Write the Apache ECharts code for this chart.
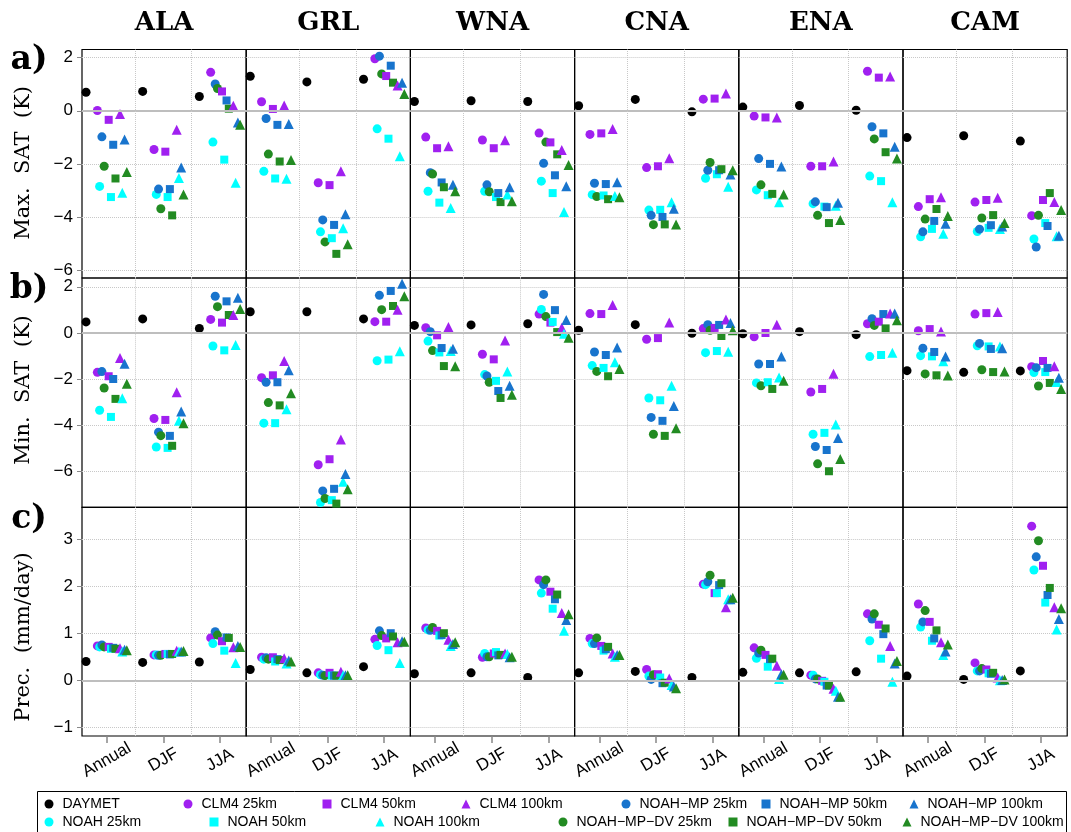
<!DOCTYPE html>
<html>
<head>
<meta charset="utf-8">
<script src="https://cdn.jsdelivr.net/npm/echarts@6/dist/echarts.min.js"></script>
<style>
html, body { margin: 0; padding: 0; background: #fff; }
#chart { width: 1071px; height: 832px; }
</style>
</head>
<body>
<div id="chart"></div>
<script>
// regions (columns), seasons (x categories)
const regions = ['ALA', 'GRL', 'WNA', 'CNA', 'ENA', 'CAM'];
const seasons = ['Annual', 'DJF', 'JJA'];

// row order in every data table below, values are [Annual, DJF, JJA]
const seriesNames = [
  'DAYMET',
  'CLM4 25km', 'CLM4 50km', 'CLM4 100km',
  'NOAH\u2212MP 25km', 'NOAH\u2212MP 50km', 'NOAH\u2212MP 100km',
  'NOAH 25km', 'NOAH 50km', 'NOAH 100km',
  'NOAH\u2212MP\u2212DV 25km', 'NOAH\u2212MP\u2212DV 50km', 'NOAH\u2212MP\u2212DV 100km'
];

// a) Max. SAT (K)
const maxALA = [[0.70,0.73,0.54],[0.01,-1.46,1.45],[-0.34,-1.54,0.73],[-0.12,-0.71,0.19],[-0.98,-2.95,1.01],[-1.28,-2.95,0.39],[-1.08,-2.14,-0.44],[-2.85,-3.15,-1.18],[-3.25,-3.25,-1.84],[-3.09,-2.53,-2.71],[-2.09,-3.69,0.84],[-2.55,-3.94,0.08],[-2.31,-3.15,-0.53]];
const maxGRL = [[1.30,1.09,1.19],[0.34,-2.71,1.96],[0.07,-2.80,1.31],[0.20,-2.28,0.95],[-0.29,-4.11,2.06],[-0.53,-4.30,1.70],[-0.50,-3.90,1.06],[-2.28,-4.56,-0.68],[-2.55,-4.80,-1.05],[-2.56,-4.43,-1.71],[-1.63,-4.94,1.39],[-1.91,-5.39,1.06],[-1.85,-5.03,0.63]];
const maxWNA = [[0.35,0.38,0.35],[-0.99,-1.10,-0.84],[-1.41,-1.41,-1.19],[-1.34,-1.11,-1.48],[-2.33,-2.79,-1.98],[-2.70,-3.10,-2.43],[-2.79,-2.88,-2.84],[-3.03,-3.03,-2.65],[-3.46,-3.25,-3.10],[-3.66,-3.15,-3.81],[-2.38,-3.05,-1.18],[-2.88,-3.44,-1.64],[-3.03,-3.41,-2.04]];
const maxCNA = [[0.19,0.43,-0.04],[-0.89,-2.14,0.44],[-0.85,-2.09,0.46],[-0.69,-1.79,0.65],[-2.73,-3.94,-2.24],[-2.76,-4.00,-2.24],[-2.69,-3.69,-2.40],[-3.16,-3.74,-2.54],[-3.19,-3.73,-2.39],[-3.21,-3.45,-2.86],[-3.23,-4.29,-1.95],[-3.33,-4.28,-2.20],[-3.26,-4.28,-2.24]];
const maxENA = [[0.14,0.20,0.02],[-0.20,-2.09,1.49],[-0.25,-2.09,1.25],[-0.25,-1.91,1.29],[-1.80,-3.43,-0.60],[-2.00,-3.63,-0.85],[-2.10,-3.46,-1.35],[-2.98,-3.50,-2.46],[-3.18,-3.61,-2.65],[-3.45,-3.58,-3.45],[-2.79,-3.94,-1.06],[-3.13,-4.23,-1.56],[-3.15,-4.11,-1.80]];
const maxCAM = [[-1.01,-0.94,-1.14],[-3.61,-3.44,-3.95],[-3.33,-3.36,-3.36],[-3.26,-3.28,-3.44],[-4.56,-4.46,-5.13],[-4.15,-4.31,-4.34],[-4.26,-4.36,-4.71],[-4.75,-4.55,-4.83],[-4.45,-4.41,-4.23],[-4.63,-4.45,-4.73],[-4.08,-4.04,-3.94],[-3.70,-3.93,-3.10],[-3.96,-4.23,-3.74]];

// b) Min. SAT (K)
const minALA = [[0.48,0.61,0.20],[-1.70,-3.70,0.59],[-1.87,-3.76,0.45],[-1.08,-2.56,0.78],[-1.67,-4.29,1.59],[-1.99,-4.45,1.37],[-1.33,-3.40,1.53],[-3.34,-4.93,-0.56],[-3.63,-4.97,-0.75],[-2.82,-3.80,-0.52],[-2.38,-4.44,1.14],[-2.85,-4.88,0.78],[-2.20,-3.90,1.04]];
const minGRL = [[0.92,0.92,0.61],[-1.93,-5.70,0.49],[-1.83,-5.46,0.49],[-1.21,-4.61,1.01],[-2.13,-6.83,1.63],[-2.13,-6.74,1.82],[-1.61,-6.10,2.13],[-3.90,-7.33,-1.20],[-3.90,-7.23,-1.15],[-3.30,-6.44,-0.79],[-3.01,-7.16,1.01],[-3.13,-7.38,1.17],[-2.61,-6.76,1.59]];
const minWNA = [[0.33,0.35,0.40],[0.23,-0.92,0.82],[-0.10,-1.14,0.45],[0.26,-0.32,0.23],[0.06,-1.86,1.67],[-0.65,-2.51,0.99],[-0.68,-2.28,0.56],[-0.35,-1.80,1.02],[-0.84,-2.07,0.48],[-0.78,-1.67,-0.03],[-0.76,-2.13,0.71],[-1.43,-2.81,0.04],[-1.44,-2.67,-0.20]];
const minCNA = [[0.12,0.36,-0.01],[0.84,-0.27,0.19],[0.82,-0.22,0.22],[1.21,0.45,0.58],[-0.82,-3.65,0.36],[-0.95,-3.80,0.35],[-0.63,-3.16,0.43],[-1.41,-2.81,-0.85],[-1.51,-2.91,-0.78],[-1.27,-2.28,-0.81],[-1.66,-4.38,0.12],[-1.87,-4.45,-0.13],[-1.56,-4.12,0.12]];
const minENA = [[-0.03,0.06,-0.07],[-0.16,-2.55,0.40],[0.00,-2.42,0.49],[0.36,-1.76,0.84],[-1.34,-4.91,0.62],[-1.34,-5.06,0.82],[-1.02,-4.54,0.84],[-2.16,-4.38,-1.02],[-2.13,-4.32,-0.95],[-1.92,-3.96,-0.85],[-2.28,-5.66,0.33],[-2.42,-5.98,0.20],[-2.07,-5.45,0.55]];
const minCAM = [[-1.63,-1.70,-1.64],[0.10,0.82,-1.46],[0.17,0.86,-1.21],[0.07,0.91,-1.44],[-0.66,-0.45,-1.50],[-0.82,-0.69,-1.51],[-1.02,-0.66,-1.93],[-0.98,-0.55,-1.71],[-1.01,-0.58,-1.69],[-1.22,-0.58,-2.12],[-1.77,-1.59,-2.29],[-1.83,-1.69,-2.16],[-1.84,-1.66,-2.42]];

// c) Prec. (mm/day)
const precALA = [[0.40,0.38,0.39],[0.73,0.54,0.90],[0.71,0.56,0.83],[0.68,0.63,0.70],[0.75,0.53,1.03],[0.69,0.55,0.91],[0.65,0.61,0.73],[0.71,0.54,0.78],[0.67,0.56,0.63],[0.61,0.61,0.37],[0.71,0.53,0.96],[0.67,0.56,0.90],[0.64,0.62,0.71]];
const precGRL = [[0.23,0.16,0.29],[0.49,0.16,0.87],[0.49,0.16,0.89],[0.47,0.18,0.81],[0.48,0.11,1.05],[0.45,0.10,1.00],[0.42,0.11,0.83],[0.45,0.12,0.74],[0.40,0.10,0.64],[0.36,0.11,0.37],[0.45,0.10,0.95],[0.43,0.10,0.93],[0.40,0.11,0.82]];
const precWNA = [[0.14,0.16,0.06],[1.11,0.49,2.13],[1.05,0.57,1.88],[0.86,0.57,1.43],[1.06,0.50,2.03],[0.96,0.53,1.72],[0.77,0.49,1.28],[1.07,0.57,1.85],[0.95,0.60,1.52],[0.73,0.56,1.05],[1.12,0.50,2.13],[1.00,0.54,1.82],[0.81,0.50,1.40]];
const precCNA = [[0.16,0.19,0.06],[0.89,0.23,2.04],[0.73,0.13,1.85],[0.57,0.04,1.55],[0.78,0.02,2.09],[0.66,-0.06,2.02],[0.54,-0.13,1.72],[0.78,0.09,2.03],[0.63,0.06,1.85],[0.50,-0.10,1.72],[0.90,0.12,2.23],[0.71,-0.05,2.06],[0.54,-0.17,1.75]];
const precENA = [[0.17,0.16,0.18],[0.69,0.11,1.41],[0.54,-0.01,1.18],[0.31,-0.18,0.73],[0.58,0.03,1.30],[0.45,-0.11,0.98],[0.13,-0.35,0.36],[0.47,0.11,0.84],[0.29,-0.03,0.46],[0.03,-0.22,-0.03],[0.64,0.03,1.41],[0.46,-0.11,1.10],[0.12,-0.35,0.41]];
const precCAM = [[0.09,0.02,0.20],[1.62,0.37,3.27],[1.24,0.23,2.43],[0.81,0.06,1.55],[1.24,0.20,2.62],[0.89,0.14,1.81],[0.61,0.01,1.30],[1.13,0.20,2.34],[0.84,0.15,1.65],[0.54,0.00,1.08],[1.48,0.25,2.96],[1.06,0.16,1.96],[0.76,0.02,1.53]];

const yTickLabels = [[-6, -4, -2, 0, 2], [-6, -4, -2, 0, 2], [-1, 0, 1, 2, 3]];
const rowNames = ['Max.  SAT  (K)', 'Min.  SAT  (K)', 'Prec.  (mm/day)'];
const rowLetters = ['a)', 'b)', 'c)'];

const panels = [
  [maxALA, maxGRL, maxWNA, maxCNA, maxENA, maxCAM],
  [minALA, minGRL, minWNA, minCNA, minENA, minCAM],
  [precALA, precGRL, precWNA, precCNA, precENA, precCAM]
];

// ---- styling / layout ----
const PURPLE = '#A020F0', BLUE = '#1874CD', CYAN = '#00FFFF', GREEN = '#228B22';
const symbols = ['circle', 'rect', 'triangle'];
const symSize = { circle: 9, rect: 8, triangle: 10 };
// model: colour + dodge slot inside a season
const modelStyle = [
  { color: PURPLE, slot: 0 },  // CLM4
  { color: BLUE, slot: 2 },    // NOAH-MP
  { color: CYAN, slot: 1 },    // NOAH
  { color: GREEN, slot: 3 }    // NOAH-MP-DV
];
function styleOf(k) {
  if (k === 0) return { color: '#000', symbol: 'circle', dx: -0.365 };
  const m = Math.floor((k - 1) / 3), r = (k - 1) % 3;
  return { color: modelStyle[m].color, symbol: symbols[r], dx: -0.165 + 0.2 * r + 0.04 * modelStyle[m].slot };
}
// drawing order: DAYMET, then by resolution, CLM4, NOAH, NOAH-MP, DV
const drawOrder = [0];
for (let r = 0; r < 3; r++) [0, 2, 1, 3].forEach(m => drawOrder.push(1 + m * 3 + r));

const colLeft = 82, colW = 164.2;
const rowTop = [49.5, 278, 507.3], rowH = [228.5, 229.3, 228.7];
const yRange = [[-6.3, 2.31], [-7.54, 2.38], [-1.18, 3.67]];
const minus = v => String(v).replace('-', '\u2212');

const grid = [], xAxis = [], yAxis = [], series = [], graphic = [];

for (let r = 0; r < 3; r++) {
  for (let c = 0; c < 6; c++) {
    const gi = r * 6 + c;
    grid.push({
      left: colLeft + c * colW, top: rowTop[r], width: colW, height: rowH[r],
      show: true, borderColor: '#000', borderWidth: 1.2, outerBoundsMode: 'none'
    });
    xAxis.push({
      type: 'value', gridIndex: gi, position: 'bottom', min: 0.564, max: 3.462, splitNumber: 3, minInterval: 1,
      axisLine: { show: false, onZero: false }, splitLine: { show: false },
      axisTick: { show: r === 2, customValues: [1, 2, 3], length: 7, lineStyle: { color: '#888', width: 1.5 } },
      axisLabel: {
        show: r === 2, customValues: [1, 2, 3], formatter: v => seasons[Math.round(v) - 1],
        rotate: 30, align: 'center', verticalAlign: 'middle', margin: 24,
        fontSize: 17, fontFamily: 'Liberation Sans', color: '#000'
      }
    });
    yAxis.push({
      type: 'value', gridIndex: gi, position: 'left', min: yRange[r][0], max: yRange[r][1],
      axisLine: { show: false, onZero: false },
      splitLine: { show: true, lineStyle: { color: '#c8c8c8', type: 'dotted', width: 1 } },
      axisTick: { show: c === 0, customValues: yTickLabels[r], length: 5, lineStyle: { color: '#888' } },
      axisLabel: {
        show: c === 0, customValues: yTickLabels[r], formatter: minus, margin: 9,
        fontSize: 17, fontFamily: 'Liberation Sans', color: '#000'
      }
    });
    // zero line and season separators
    series.push({
      type: 'scatter', xAxisIndex: gi, yAxisIndex: gi, data: [], silent: true,
      itemStyle: { color: '#c8c8c8' },
      markLine: {
        silent: true, symbol: 'none', label: { show: false }, animation: false,
        data: [
          { yAxis: 0, lineStyle: { color: '#BEBEBE', width: 2, type: 'solid' } },
          { xAxis: 1.5, lineStyle: { color: '#c8c8c8', width: 1, type: 'dotted' } },
          { xAxis: 2.5, lineStyle: { color: '#c8c8c8', width: 1, type: 'dotted' } }
        ]
      }
    });
    const table = panels[r][c];
    drawOrder.forEach(k => {
      const st = styleOf(k);
      series.push({
        type: 'scatter', name: seriesNames[k], xAxisIndex: gi, yAxisIndex: gi,
        symbol: st.symbol, symbolSize: symSize[st.symbol],
        itemStyle: { color: st.color, opacity: 1 },
        emphasis: { disabled: true },
        data: table[k].map((v, s) => [s + 1 + st.dx, v])
      });
    });
  }
  graphic.push({
    type: 'text', x: 29, y: [60, 289, 519][r],
    style: { text: rowLetters[r], font: 'bold 33px "DejaVu Serif"', fill: '#000', textAlign: 'center', textVerticalAlign: 'middle' }
  });
  graphic.push({
    type: 'text', x: 24, y: [163, 390, 637][r], rotation: Math.PI / 2,
    style: { text: rowNames[r], font: '21px "DejaVu Serif"', fill: '#000', textAlign: 'center', textVerticalAlign: 'middle' }
  });
}

regions.forEach((name, c) => {
  graphic.push({
    type: 'text', x: colLeft + (c + 0.5) * colW, y: 23,
    style: { text: name, font: 'bold 26px "DejaVu Serif"', fill: '#000', textAlign: 'center', textVerticalAlign: 'middle' }
  });
});

// legend frame
graphic.push({
  type: 'rect', shape: { x: 37.5, y: 791.5, width: 1029, height: 50 },
  style: { fill: 'none', stroke: '#000', lineWidth: 1 }
});

// legend entries: [series row, symbol centre x, centre y]
const legendSpots = [
  [0, 49, 804], [1, 188, 804], [2, 327, 804], [3, 466, 804], [4, 626, 804], [5, 766, 804], [6, 914, 804],
  [7, 49, 822], [8, 214, 822], [9, 380, 822], [10, 563, 822], [11, 733, 822], [12, 907, 822]
];
const legend = legendSpots.map(([k, x, y]) => ({
  data: [seriesNames[k]], left: x - 4.5, top: y - 7, padding: 0,
  itemWidth: 9, itemHeight: 9, selectedMode: false,
  textStyle: { fontSize: 14, fontFamily: 'Liberation Sans', color: '#000', padding: [0, 0, 0, 4] }
}));

const chart = echarts.init(document.getElementById('chart'), null, { renderer: 'canvas' });
chart.setOption({
  animation: false,
  backgroundColor: '#fff',
  grid, xAxis, yAxis, series, legend, graphic
});
</script>
</body>
</html>
